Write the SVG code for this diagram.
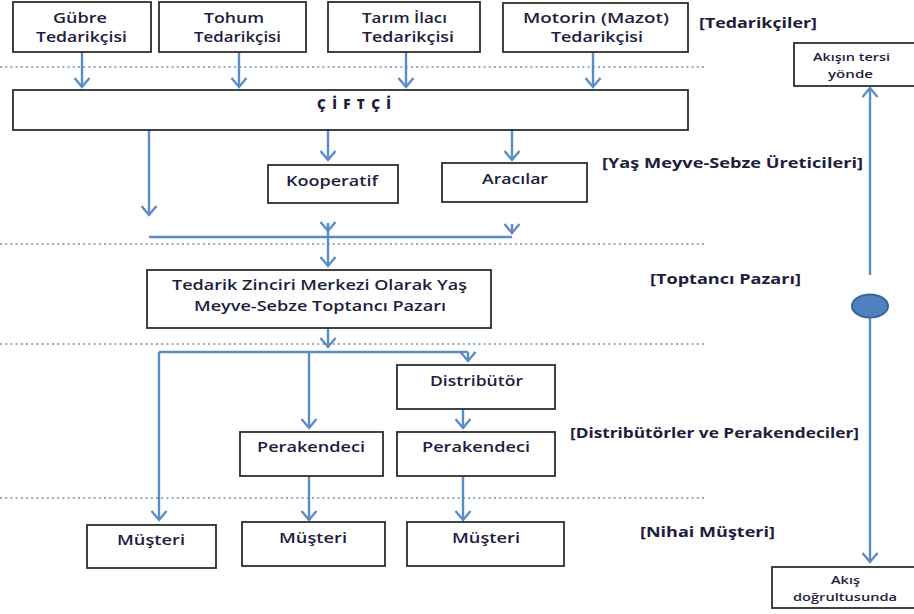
<svg xmlns="http://www.w3.org/2000/svg" width="914" height="614" viewBox="0 0 914 614">
  <defs>
    <marker id="chev" viewBox="-12 -10 14 20" refX="0" refY="0" markerWidth="14" markerHeight="20" markerUnits="userSpaceOnUse" orient="auto" overflow="visible">
      <path d="M-9,-7.5 L0,0 L-9,7.5" fill="none" stroke="#5b8cc6" stroke-width="2.4" stroke-linejoin="miter"/>
    </marker>
    <style>
      .box { fill: #ffffff; stroke: #2e2e2e; stroke-width: 1.8; }
      text { font-family: "Open Sans", "Liberation Sans", sans-serif; fill: #1e1d3d; }
      .t { font-size: 13.5px; font-weight: 600; text-anchor: middle; }
      .ts { font-size: 10.5px; font-weight: 600; text-anchor: middle; }
      .lbl { font-size: 14px; font-weight: bold; }
      .title { font-size: 13.5px; font-weight: 800; text-anchor: middle; }
      .dot { stroke: #6d8fb5; stroke-width: 1.3; stroke-dasharray: 2 3.2; fill: none; }
      .c { stroke: #5b8cc6; stroke-width: 2.4; fill: none; }
      .a { stroke: #5b8cc6; stroke-width: 2.4; fill: none; marker-end: url(#chev); }
    </style>
  </defs>
  <rect width="914" height="614" fill="#ffffff"/>

  <!-- layer separators -->
  <g id="separators">
    <line class="dot" x1="0" y1="67" x2="704" y2="67"/>
    <line class="dot" x1="0" y1="244" x2="704" y2="244"/>
    <line class="dot" x1="0" y1="344" x2="704" y2="344"/>
    <line class="dot" x1="0" y1="498" x2="704" y2="498"/>
  </g>

  <!-- connectors -->
  <g id="connectors">
    <line class="a" x1="82" y1="52" x2="82" y2="87"/>
    <line class="a" x1="239" y1="52" x2="239" y2="87"/>
    <line class="a" x1="406" y1="52" x2="406" y2="87"/>
    <line class="a" x1="593" y1="52" x2="593" y2="87"/>

    <line class="a" x1="149" y1="130" x2="149" y2="215"/>
    <line class="a" x1="328" y1="130" x2="328" y2="160"/>
    <line class="a" x1="512" y1="130" x2="512" y2="160"/>

    <line class="a" x1="328" y1="223" x2="328" y2="231"/>
    <line class="a" x1="512" y1="224" x2="512" y2="233"/>
    <line class="c" x1="149" y1="237" x2="512" y2="237"/>
    <line class="a" x1="328" y1="225" x2="328" y2="266"/>

    <line class="a" x1="328" y1="328" x2="328" y2="347"/>
    <polyline class="c" points="159,352 468,352"/>
    <line class="a" x1="468" y1="352" x2="468" y2="361"/>
    <line class="a" x1="159" y1="352" x2="159" y2="520"/>
    <line class="a" x1="309" y1="352" x2="309" y2="428"/>
    <line class="a" x1="463" y1="409" x2="463" y2="428"/>
    <line class="a" x1="309" y1="476" x2="309" y2="520"/>
    <line class="a" x1="463" y1="476" x2="463" y2="520"/>

    <line class="a" x1="870" y1="275" x2="870" y2="88"/>
    <line class="a" x1="870" y1="318" x2="870" y2="562"/>
  </g>

  <!-- suppliers -->
  <g id="gubre">
    <rect class="box" x="13" y="2" width="138" height="50"/>
    <text class="t" x="80" y="23" textLength="54" lengthAdjust="spacingAndGlyphs">Gübre</text>
    <text class="t" x="81.5" y="42" textLength="91" lengthAdjust="spacingAndGlyphs">Tedarikçisi</text>
  </g>
  <g id="tohum">
    <rect class="box" x="159" y="2" width="147" height="50"/>
    <text class="t" x="234" y="23" textLength="60" lengthAdjust="spacingAndGlyphs">Tohum</text>
    <text class="t" x="237.5" y="42" textLength="87" lengthAdjust="spacingAndGlyphs">Tedarikçisi</text>
  </g>
  <g id="ilac">
    <rect class="box" x="328" y="2" width="152" height="50"/>
    <text class="t" x="404.5" y="23" textLength="85" lengthAdjust="spacingAndGlyphs">Tarım İlacı</text>
    <text class="t" x="408" y="42" textLength="92" lengthAdjust="spacingAndGlyphs">Tedarikçisi</text>
  </g>
  <g id="motorin">
    <rect class="box" x="503" y="3" width="185" height="49"/>
    <text class="t" x="596" y="23" textLength="146" lengthAdjust="spacingAndGlyphs">Motorin (Mazot)</text>
    <text class="t" x="597" y="42" textLength="92" lengthAdjust="spacingAndGlyphs">Tedarikçisi</text>
  </g>

  <!-- producers -->
  <g id="ciftci">
    <rect class="box" x="13" y="90" width="675" height="40"/>
    <text class="title" x="354" y="109" textLength="74" lengthAdjust="spacing">ÇİFTÇİ</text>
  </g>
  <g id="kooperatif">
    <rect class="box" x="268" y="165" width="130" height="38"/>
    <text class="t" x="332" y="186" textLength="92" lengthAdjust="spacingAndGlyphs">Kooperatif</text>
  </g>
  <g id="aracilar">
    <rect class="box" x="442" y="163" width="145" height="39"/>
    <text class="t" x="515" y="184" textLength="66" lengthAdjust="spacingAndGlyphs">Aracılar</text>
  </g>

  <!-- wholesale market -->
  <g id="toptanci">
    <rect class="box" x="147" y="270" width="344" height="58"/>
    <text class="t" x="319.5" y="290" textLength="295" lengthAdjust="spacingAndGlyphs">Tedarik Zinciri Merkezi Olarak Yaş</text>
    <text class="t" x="320" y="311" textLength="252" lengthAdjust="spacingAndGlyphs">Meyve-Sebze Toptancı Pazarı</text>
  </g>

  <!-- distribution and retail -->
  <g id="distributor">
    <rect class="box" x="397" y="365" width="158" height="44"/>
    <text class="t" x="476.5" y="386" textLength="93" lengthAdjust="spacingAndGlyphs">Distribütör</text>
  </g>
  <g id="perakendeci1">
    <rect class="box" x="240" y="432" width="143" height="44"/>
    <text class="t" x="311" y="452" textLength="108" lengthAdjust="spacingAndGlyphs">Perakendeci</text>
  </g>
  <g id="perakendeci2">
    <rect class="box" x="397" y="432" width="158" height="44"/>
    <text class="t" x="476" y="452" textLength="108" lengthAdjust="spacingAndGlyphs">Perakendeci</text>
  </g>

  <!-- consumers -->
  <g id="musteri1">
    <rect class="box" x="87" y="525" width="129" height="43"/>
    <text class="t" x="151" y="545" textLength="68" lengthAdjust="spacingAndGlyphs">Müşteri</text>
  </g>
  <g id="musteri2">
    <rect class="box" x="242" y="522" width="143" height="44"/>
    <text class="t" x="313" y="543" textLength="68" lengthAdjust="spacingAndGlyphs">Müşteri</text>
  </g>
  <g id="musteri3">
    <rect class="box" x="407" y="522" width="157" height="44"/>
    <text class="t" x="486" y="543" textLength="68" lengthAdjust="spacingAndGlyphs">Müşteri</text>
  </g>

  <!-- layer labels -->
  <g id="labels">
    <text class="lbl" x="699" y="28" textLength="118" lengthAdjust="spacingAndGlyphs">[Tedarikçiler]</text>
    <text class="lbl" x="602" y="168" textLength="261" lengthAdjust="spacingAndGlyphs">[Yaş Meyve-Sebze Üreticileri]</text>
    <text class="lbl" x="650" y="284" textLength="151" lengthAdjust="spacingAndGlyphs">[Toptancı Pazarı]</text>
    <text class="lbl" x="570" y="438" textLength="289" lengthAdjust="spacingAndGlyphs">[Distribütörler ve Perakendeciler]</text>
    <text class="lbl" x="640" y="537" textLength="135" lengthAdjust="spacingAndGlyphs">[Nihai Müşteri]</text>
  </g>

  <!-- flow direction legend -->
  <g id="ters">
    <rect class="box" x="794" y="43" width="125" height="43"/>
    <text class="ts" x="851.5" y="61" textLength="77" lengthAdjust="spacingAndGlyphs">Akışın tersi</text>
    <text class="ts" x="850.5" y="78" textLength="45" lengthAdjust="spacingAndGlyphs">yönde</text>
  </g>
  <g id="nokta">
    <ellipse cx="870" cy="306" rx="18" ry="11.5" fill="#4f81bd" stroke="#3a6596" stroke-width="2"/>
  </g>
  <g id="dogrultu">
    <rect class="box" x="772" y="567" width="147" height="41"/>
    <text class="ts" x="845.5" y="584" textLength="29" lengthAdjust="spacingAndGlyphs">Akış</text>
    <text class="ts" x="845" y="601" textLength="104" lengthAdjust="spacingAndGlyphs">doğrultusunda</text>
  </g>
</svg>
